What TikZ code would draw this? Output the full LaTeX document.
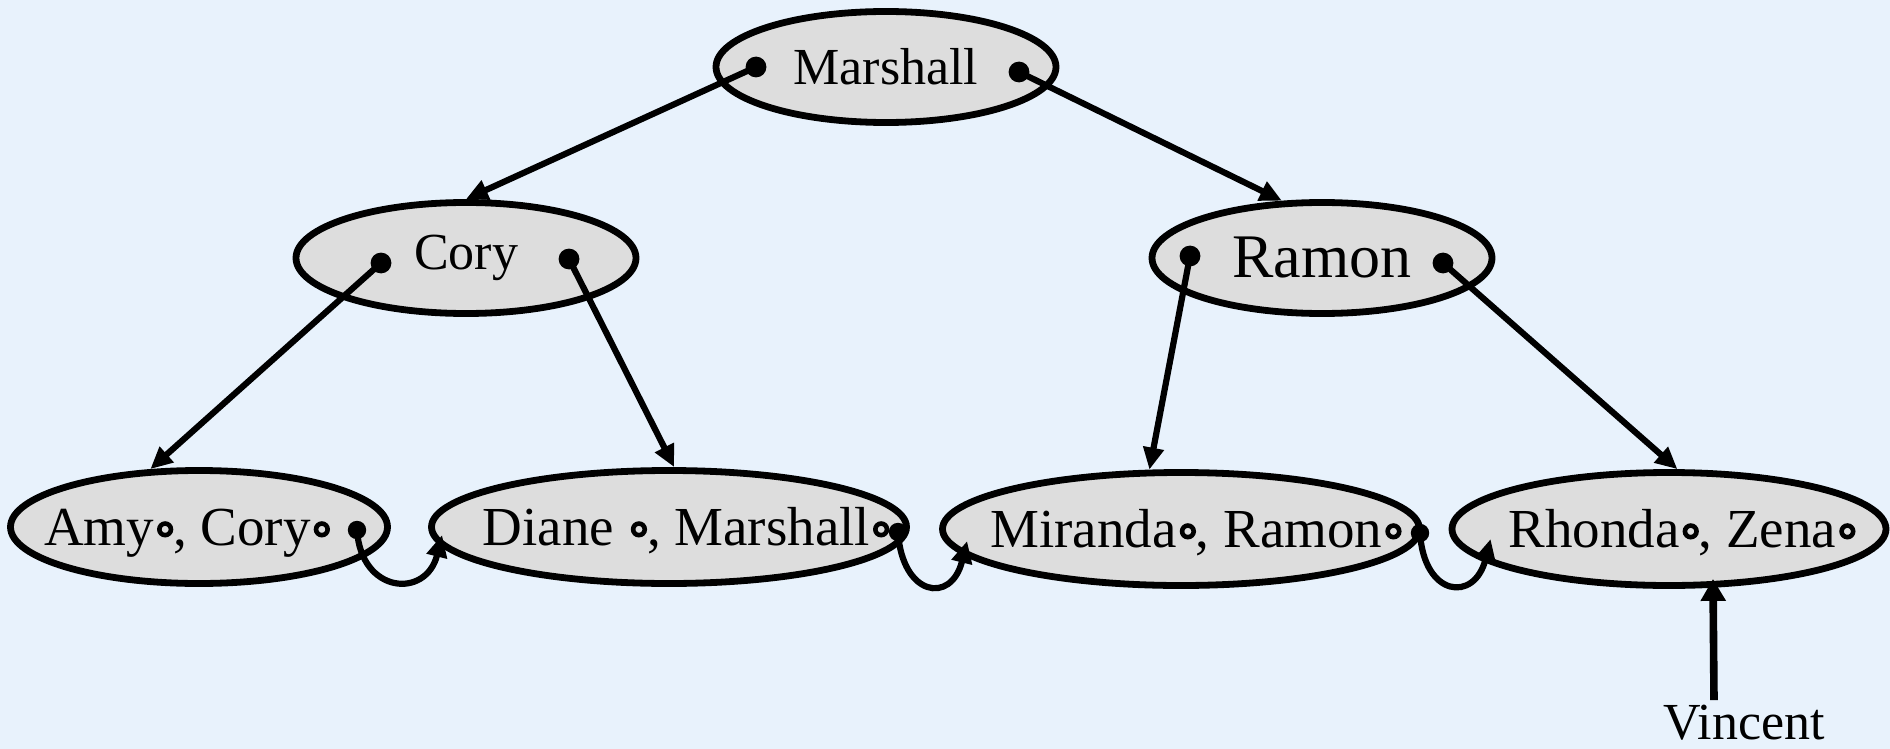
\documentclass[tikz,border=0pt]{standalone}
\usepackage{fontspec}
\setmainfont{Liberation Serif}
\usetikzlibrary{shapes.geometric, arrows.meta}
\definecolor{paneBlue}{RGB}{232, 242, 252}
\definecolor{keyGray}{RGB}{221, 221, 221}
\newcommand{\keyring}{\kern1.5pt\tikz[baseline=-0.62ex]\draw[line width=2.3pt] (0,0) circle (2.9pt);}
\newcommand{\keytext}[2]{\makebox[0pt]{\hspace*{#1}\smash{#2}\vphantom{M}}}

\begin{document}
\begin{tikzpicture}[x=1pt, y=1pt,
    keynode/.style={ellipse, draw, line width=3.4pt, fill=keyGray, inner sep=0pt, minimum height=55.5pt, font=\fontsize{26}{30}\selectfont},
    leafnode/.style={keynode, minimum height=56.5pt, font=\fontsize{27.5}{32}\selectfont},
    ptr/.style={-{Triangle[length=11pt, width=10pt]}, line width=3.1pt},
    ptrdot/.style={fill=black}]
            \path[use as bounding box, fill=paneBlue] (0,0) rectangle (945,-374.5);
            % inner levels
            \node[keynode, minimum width=170pt] (marshall) at (443,-33.5) {Marshall};
            \node[keynode, minimum width=170pt] (cory) at (233,-129) {Cory};
            \node[keynode, minimum width=170pt, font=\fontsize{31}{36}\selectfont] (ramon) at (661,-129) {Ramon};
            % leaf level
            \node[leafnode, minimum width=188.5pt] (amycory) at (99.5,-263.5) {\keytext{-12pt}{Amy\keyring, Cory\keyring}};
            \node[leafnode, minimum width=237.5pt] (dianemarshall) at (334.5,-263.5) {\keytext{17pt}{Diane \keyring, Marshall\keyring}};
            \node[leafnode, minimum width=238.5pt] (mirandaramon) at (590.5,-264.5) {\keytext{15pt}{Miranda\keyring, Ramon\keyring}};
            \node[leafnode, minimum width=217pt] (rhondazena) at (834.5,-264.5) {\keytext{13pt}{Rhonda\keyring, Zena\keyring}};
            \node[font=\fontsize{26}{30}\selectfont, anchor=base, inner sep=0pt] (vincent) at (872,-369.5) {Vincent};
            % pointer dots
            \coordinate (marshall-l) at (378,-33.5);
            \coordinate (marshall-r) at (509.5,-36);
            \coordinate (cory-l) at (190.5,-131.5);
            \coordinate (cory-r) at (284.5,-129.5);
            \coordinate (ramon-l) at (595,-128);
            \coordinate (ramon-r) at (721.5,-131.5);
            \coordinate (amycory-r) at (178.5,-265);
            \coordinate (dianemarshall-r) at (449,-266);
            \coordinate (mirandaramon-r) at (710,-266.5);
            \foreach \p in {marshall-l, marshall-r, cory-l, cory-r, ramon-l, ramon-r}
                \fill[ptrdot] (\p) circle (5.2pt);
            \foreach \p in {amycory-r, dianemarshall-r, mirandaramon-r}
                \fill[ptrdot] (\p) circle (4.6pt);
            \draw[ptr] (marshall-l) -- (cory.north);
            \draw[ptr] (marshall-r) -- (ramon.125);
            \draw[ptr] (cory-l) -- (amycory.130);
            \draw[ptr] (cory-r) -- (dianemarshall.85);
            \draw[ptr] (ramon-l) -- (mirandaramon.118);
            \draw[ptr] (ramon-r) -- (rhondazena.82);
            % leaf chain
            \draw[ptr] (amycory-r) .. controls +(2,-32) and +(-8,-32) .. ([shift={(7pt,-4pt)}]dianemarshall.west);
            \draw[ptr] (dianemarshall-r) .. controls +(2,-32) and +(-8,-32) .. ([shift={(14pt,-6pt)}]mirandaramon.west);
            \draw[ptr] (mirandaramon-r) .. controls +(2,-32) and +(-8,-32) .. ([shift={(21pt,-5pt)}]rhondazena.west);
            \draw[ptr, line width=3.8pt, -{Triangle[length=11pt, width=12pt]}] ([shift={(-15pt,2pt)}]vincent.north) -- ([shift={(22pt,5pt)}]rhondazena.south);
        \end{tikzpicture}
\end{document}
